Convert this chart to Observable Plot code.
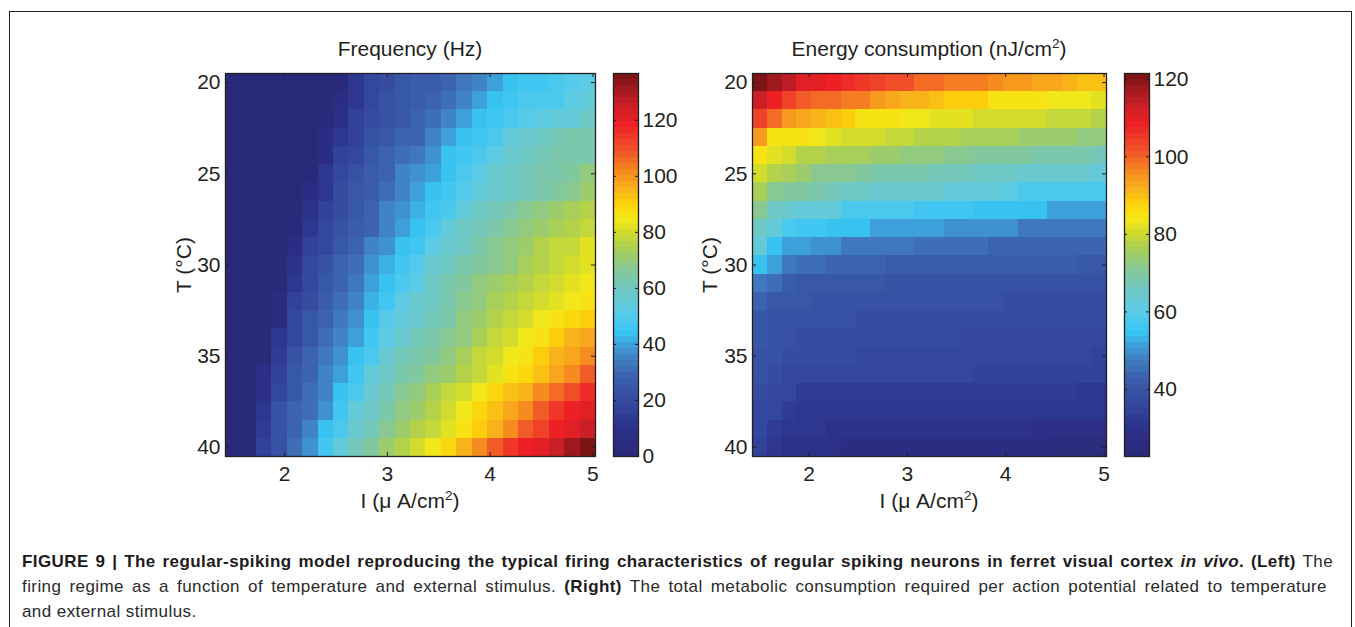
<!DOCTYPE html>
<html>
<head>
<meta charset="utf-8">
<script src="https://cdn.jsdelivr.net/npm/d3@7"></script>
<script src="https://cdn.jsdelivr.net/npm/@observablehq/plot@0.6"></script>
<style>
  body { margin: 0; background: #fff; }
  #wrap { position: relative; width: 1355px; height: 627px; overflow: hidden; background: #fff;
          font-family: "Liberation Sans", Arial, sans-serif; color: #231f20; }
  .box { position: absolute; left: 8.5px; top: 11px; width: 1343px; height: 700px;
         border: 1.4px solid #231f20; box-sizing: border-box; }
  .abs { position: absolute; }
  .cap { position: absolute; left: 22px; font-size: 17px; letter-spacing: 0.42px; line-height: 25px; color: #2a2a2a; white-space: nowrap; }
  .cap div { text-align: justify; text-align-last: justify; }
  .cap div.last { text-align-last: left; }
  .cap b { color: #1e1b1c; }
</style>
</head>
<body>
<div id="wrap">
  <div class="box"></div>
  <div id="hmL" class="abs" style="left:150px;top:30px"></div>
  <div id="cbL" class="abs" style="left:600px;top:30px"></div>
  <div id="hmR" class="abs" style="left:680px;top:30px"></div>
  <div id="cbR" class="abs" style="left:1110px;top:30px"></div>
  <svg class="abs" style="left:0;top:0" width="1355" height="627" font-family="Liberation Sans, Arial, sans-serif" fill="#231f20">
    <text x="410" y="56" font-size="21" text-anchor="middle">Frequency (Hz)</text>
    <text x="929" y="56" font-size="21" text-anchor="middle">Energy consumption (nJ/cm<tspan dy="-8" font-size="13.5">2</tspan><tspan dy="8">)</tspan></text>
    <text x="410" y="508" font-size="21" text-anchor="middle">I (μ A/cm<tspan dy="-8" font-size="13.5">2</tspan><tspan dy="8">)</tspan></text>
    <text x="929" y="508" font-size="21" text-anchor="middle">I (μ A/cm<tspan dy="-8" font-size="13.5">2</tspan><tspan dy="8">)</tspan></text>
    <text transform="translate(191,265) rotate(-90)" font-size="21" text-anchor="middle">T (°C)</text>
    <text transform="translate(717,265) rotate(-90)" font-size="21" text-anchor="middle">T (°C)</text>
  </svg>
  <div class="cap" style="top:549px;width:1311px">
    <div><b>FIGURE 9 | The regular-spiking model reproducing the typical firing characteristics of regular spiking neurons in ferret visual cortex <i>in vivo</i>. (Left)</b> The</div>
    <div style="width:1305px">firing regime as a function of temperature and external stimulus. <b>(Right)</b> The total metabolic consumption required per action potential related to temperature</div>
    <div class="last">and external stimulus.</div>
  </div>
</div>
<script>
// ---- grid (cell centres) ----
const currents = [1.50,1.65,1.80,1.95,2.10,2.25,2.40,2.55,2.70,2.85,3.00,3.15,3.30,3.45,3.60,3.75,3.90,4.05,4.20,4.35,4.50,4.65,4.80,4.95];
const temperatures = [20,21,22,23,24,25,26,27,28,29,30,31,32,33,34,35,36,37,38,39,40];
const xTicks = [2,3,4,5];
const yTicks = [20,25,30,35,40];
const freqTicks = [0,20,40,60,80,100,120];
const energyTicks = [40,60,80,100,120];
const freqRange = [0, 136.7];
const energyRange = [22.7, 121.5];

// ---- firing frequency (Hz), one row per temperature ----
const freqT20 = [0,0,0,0,0,0,0,0,11,19,21,24,26,26,28,33,36,40,43,45,45,47,51,52];
const freqT21 = [0,0,0,0,0,0,0,6,12,19,22,25,26,28,31,36,39,43,45,47,49,49,53,55];
const freqT22 = [0,0,0,0,0,0,0,8,15,20,23,25,29,31,36,40,43,45,48,51,53,54,55,58];
const freqT23 = [0,0,0,0,0,0,6,12,17,22,25,28,29,36,40,43,45,49,54,56,58,60,62,62];
const freqT24 = [0,0,0,0,0,0,6,15,19,24,28,31,33,37,43,45,48,53,56,58,60,62,63,64];
const freqT25 = [0,0,0,0,0,0,11,19,22,26,29,35,37,40,44,48,53,56,58,60,62,64,66,69];
const freqT26 = [0,0,0,0,0,6,12,21,24,26,31,35,40,43,45,50,54,57,59,61,64,66,68,71];
const freqT27 = [0,0,0,0,0,9,16,21,25,29,35,38,42,45,49,55,58,60,64,67,69,72,74,75];
const freqT28 = [0,0,0,0,0,12,19,22,26,29,35,40,43,48,54,58,60,63,67,69,72,74,76,78];
const freqT29 = [0,0,0,0,6,16,19,25,29,35,38,43,45,52,56,59,63,67,69,72,75,77,79,82];
const freqT30 = [0,0,0,0,9,19,22,28,31,38,41,45,51,56,58,62,65,68,70,73,76,78,80,83];
const freqT31 = [0,0,0,0,12,19,24,29,33,40,44,49,53,58,62,65,69,71,74,76,79,81,83,85];
const freqT32 = [0,0,0,6,16,21,26,31,35,41,45,52,56,58,63,67,70,73,75,78,81,83,85,86];
const freqT33 = [0,0,0,6,19,24,29,33,38,43,51,55,57,60,64,69,72,75,78,81,84,86,89,91];
const freqT34 = [0,0,0,11,19,24,31,35,40,45,53,57,60,63,68,70,74,78,81,84,86,91,95,98];
const freqT35 = [0,0,0,13,22,28,33,38,43,49,56,60,63,66,70,73,77,80,84,86,91,95,98,102];
const freqT36 = [0,0,7,16,24,29,35,40,45,54,58,62,65,69,72,76,79,83,86,89,93,97,102,108];
const freqT37 = [0,0,7,19,25,31,35,43,49,56,60,67,70,73,77,81,85,88,92,96,101,105,111,116];
const freqT38 = [0,0,11,22,28,31,38,45,54,58,63,69,72,76,80,84,88,92,97,102,108,114,118,120];
const freqT39 = [0,0,13,22,29,35,43,49,57,60,67,72,75,79,83,86,90,95,101,107,113,118,121,126];
const freqT40 = [0,0,16,22,31,38,45,54,60,66,72,75,81,85,88,95,102,107,114,119,120,126,131,136];

// ---- energy consumption (nJ/cm^2), one row per temperature ----
const energyT20 = [122,117.5,113.9,110.6,109.9,108.8,107.3,105.1,103.7,102.2,101.5,99.3,98.6,97.5,97.1,97,95.7,94.9,93.9,92.8,92.4,91.3,90.6,89.8];
const energyT21 = [112.4,108.8,103.7,100.8,99.3,98.6,97.1,97,94.2,93.5,91.3,91.2,89.5,88.8,87.7,87.6,85.5,85.4,84.8,84.7,84.4,84.2,83.4,82.8];
const energyT22 = [103.7,98.6,94.9,93.5,91.3,89.1,87.7,85.5,85.3,84.8,84,83.3,82.6,82.2,81.8,81.1,80.8,80.6,80,79.9,79.7,79.3,78.9,78.2];
const energyT23 = [94.9,85.5,85.5,84.8,83.3,82.6,81.1,80.8,80,79.7,78.9,77.8,77.5,77.1,76.4,76,75.7,75.3,74.6,74.2,74,73.8,73.5,72.8];
const energyT24 = [85.5,82.6,80.4,78.2,77.5,76.7,76,75.3,74.6,73.8,73.6,73.1,72.4,71.7,70.9,70.2,70,69.5,69.3,68.7,68.4,68,67.7,67.3];
const energyT25 = [81,77.1,75.3,73.8,72,71.9,70.6,69.1,68.7,68.4,68,67.5,66.9,66.7,66.6,65.8,65.1,64.4,63.7,63.6,63.3,63.1,62.9,61.8];
const energyT26 = [76.7,72,69.8,69.1,68,66.9,65.5,64.4,64,63.7,63.3,63.2,62.9,62.6,61.8,61.5,61.4,61.1,57.8,57.8,57.5,57.4,57.3,57.1];
const energyT27 = [71.7,64.7,63,62.4,62.2,61.5,58,57.8,57.5,57.3,57.1,55.6,55.5,55.5,55.4,54.2,54.2,54.1,54,53.9,52,52,51.9,51.8];
const energyT28 = [65.1,61.5,57.3,55.6,55.5,54.2,54.2,54.1,52,52,51.9,51.9,51.8,49.8,49.8,49.7,49.7,49.6,46.9,46.9,46.8,46.8,46.8,46.7];
const energyT29 = [61.5,54,52,51.9,49.8,49.7,46.9,46.9,46.8,46.8,46.7,45.5,45.5,45.4,45.4,45.3,44,44,44,43.9,43.9,43.8,43.8,43.3];
const energyT30 = [54.2,50.6,46.9,44.5,44.4,44,43.6,43.5,43.4,42.5,42.4,42.4,42.3,42.3,42.2,42.2,41.5,41.5,41.4,41.4,41.3,41.3,41.2,40.6];
const energyT31 = [46.9,44.7,42.5,41.1,40.4,40.4,40.3,40.3,40.2,39.6,39.6,39.5,39.5,39.4,39.4,39.3,38.9,38.9,38.8,38.8,38.7,38.7,38.6,38.3];
const energyT32 = [44,40.4,40.2,39.7,39.4,39.3,39.2,39.2,39.1,38.4,38.4,38.3,38.3,38.3,38.2,38.2,38.2,38.1,38.1,38,38,37.9,37.9,37.7];
const energyT33 = [41.1,39.6,38.9,38.4,38.3,38.2,38.2,38.1,38.1,38,38,37.9,37.9,37.8,37.5,37.5,37.4,37.4,37.4,37.3,37.3,37.2,37.2,36.8];
const energyT34 = [39.8,38.9,38.2,37.6,37.5,37.5,37.4,37.4,37.3,37.2,36.7,36.7,36.6,36.6,36.5,36.5,36.4,36.4,36.3,36.3,36.2,35.8,35.7,35.6];
const energyT35 = [38.9,38.2,37.5,36.9,36.8,36.7,36.6,36.3,36.3,36.2,36.2,36.1,36.1,36,36,36,35.9,35.9,35.4,35.3,35.3,35.2,35.1,35];
const energyT36 = [38.2,37.5,36.4,36.3,36.2,35.4,35.4,35.3,35.3,35.3,35.2,35.2,35.2,35.1,35.1,35,34.5,34.5,34.4,34.4,34.3,34.3,34.2,34.2];
const energyT37 = [37.5,36.3,35.3,33.4,33.3,33.2,33.2,33.1,33.1,33,33,33,32.9,32.9,32.8,32.3,32.2,32.2,32.1,32.1,32,32,31.9,31.9];
const energyT38 = [36.3,35.3,33.3,31.9,31.8,31.8,31.7,31.7,31.6,31.6,31.6,31.5,31.5,31.5,31.4,31.4,30.8,30.8,30.7,30.7,30.6,30.6,30.5,30.5];
const energyT39 = [35.3,33.1,31.2,31.1,31,30.3,30.3,30.2,30.2,30.2,30.1,30.1,30.1,30,30,30,29.9,29.9,29.9,28,27.9,27.8,27.7,27.6];
const energyT40 = [35,31.6,29.9,29.8,29.7,29.6,26.2,26.2,26.1,26.1,26.1,26,26,26,25.9,25.9,25.9,25.8,25.8,25.8,25.7,25.7,25.7,25.6];

const freqRows = [freqT20,freqT21,freqT22,freqT23,freqT24,freqT25,freqT26,freqT27,freqT28,freqT29,freqT30,
  freqT31,freqT32,freqT33,freqT34,freqT35,freqT36,freqT37,freqT38,freqT39,freqT40];
const energyRows = [energyT20,energyT21,energyT22,energyT23,energyT24,energyT25,energyT26,energyT27,energyT28,energyT29,energyT30,
  energyT31,energyT32,energyT33,energyT34,energyT35,energyT36,energyT37,energyT38,energyT39,energyT40];

// ---- colormap (printed MATLAB jet, 64 levels) ----
const jetStops = [0,0.06,0.125,0.2,0.25,0.29,0.32,0.375,0.44,0.5,0.55,0.59,0.625,0.66,0.7,0.75,0.8,0.875,0.93,1];
const jetColors = ["#2a2a7b","#2c3088","#34469e","#3b5fac","#4080c2","#3ea4dd","#37c5f2","#5ccbe8","#72c7bd","#8cc98a",
  "#afd04e","#d6dd2a","#f5ea17","#fdd20a","#f9b21b","#f6881f","#f05429","#ed1f26","#c41f26","#7c1416"];
const jetCont = d3.scaleLinear().domain(jetStops).range(jetColors).interpolate(d3.interpolateRgb).clamp(true);
const LEVELS = 64;
const jet64 = t => jetCont(Math.max(0, Math.min(LEVELS - 1, Math.floor(t * LEVELS))) / (LEVELS - 1));

const dI = 0.15, dT = 1;
const xDomain = [currents[0] - dI / 2, currents[currents.length - 1] + dI / 2];
const yDomain = [temperatures[0] - dT / 2, temperatures[temperatures.length - 1] + dT / 2];
const FONT = "Liberation Sans, Arial, sans-serif";
const INK = "#231f20";
const TICK = 4;

function heatmap(rows, colorDomain, frameW, ml) {
  const frameH = 383, mt = 43, mr = 6, mb = 40;
  const cells = temperatures.flatMap((T, r) => currents.map((I, c) => ({I, T, v: rows[r][c]})));
  return Plot.plot({
    width: ml + frameW + mr, height: mt + frameH + mb,
    marginLeft: ml, marginRight: mr, marginTop: mt, marginBottom: mb,
    style: {fontFamily: FONT, fontSize: "21px", color: INK, background: "transparent", overflow: "visible"},
    x: {domain: xDomain, ticks: xTicks, tickFormat: d => String(d), tickSize: 0, tickPadding: 10, label: null},
    y: {domain: yDomain, reverse: true, ticks: yTicks, tickFormat: d => String(d), tickSize: 0, tickPadding: 5, label: null},
    color: {type: "linear", domain: colorDomain, interpolate: jet64, clamp: true},
    marks: [
      Plot.rect(cells, {x1: d => d.I - dI / 2, x2: d => d.I + dI / 2, y1: d => d.T - dT / 2, y2: d => d.T + dT / 2,
        fill: "v", inset: 0, shapeRendering: "crispEdges"}),
      Plot.tickX(xTicks, {x: d => d, insetTop: frameH - TICK, stroke: INK, strokeWidth: 1}),
      Plot.tickX(xTicks, {x: d => d, insetBottom: frameH - TICK, stroke: INK, strokeWidth: 1}),
      Plot.tickY(yTicks, {y: d => d, insetRight: frameW - TICK, stroke: INK, strokeWidth: 1}),
      Plot.tickY(yTicks, {y: d => d, insetLeft: frameW - TICK, stroke: INK, strokeWidth: 1}),
      Plot.frame({stroke: INK, strokeWidth: 1.3})
    ]
  });
}

function colorbar(colorDomain, ticks, ml) {
  const frameW = 25, frameH = 383, mt = 43, mb = 30, mr = 60;
  const step = (colorDomain[1] - colorDomain[0]) / LEVELS;
  const bands = d3.range(LEVELS).map(i => ({lo: colorDomain[0] + i * step, hi: colorDomain[0] + (i + 1) * step, mid: colorDomain[0] + (i + 0.5) * step}));
  return Plot.plot({
    width: ml + frameW + mr, height: mt + frameH + mb,
    marginLeft: ml, marginRight: mr, marginTop: mt, marginBottom: mb,
    style: {fontFamily: FONT, fontSize: "21px", color: INK, background: "transparent", overflow: "visible"},
    x: {domain: [0, 1], axis: null},
    y: {domain: colorDomain, ticks, axis: "right", tickFormat: d => String(d), tickSize: 0, tickPadding: 4, label: null},
    color: {type: "linear", domain: colorDomain, interpolate: jet64, clamp: true},
    marks: [
      Plot.rect(bands, {x1: 0, x2: 1, y1: "lo", y2: "hi", fill: "mid", shapeRendering: "crispEdges"}),
      Plot.tickY(ticks, {y: d => d, insetRight: frameW - 3, stroke: INK, strokeWidth: 1}),
      Plot.tickY(ticks, {y: d => d, insetLeft: frameW - 3, stroke: INK, strokeWidth: 1}),
      Plot.frame({stroke: INK, strokeWidth: 1.3})
    ]
  });
}

document.getElementById("hmL").append(heatmap(freqRows, freqRange, 370, 75));
document.getElementById("hmR").append(heatmap(energyRows, energyRange, 354, 72));
document.getElementById("cbL").append(colorbar(freqRange, freqTicks, 13));
document.getElementById("cbR").append(colorbar(energyRange, energyTicks, 14));
</script>
</body>
</html>
